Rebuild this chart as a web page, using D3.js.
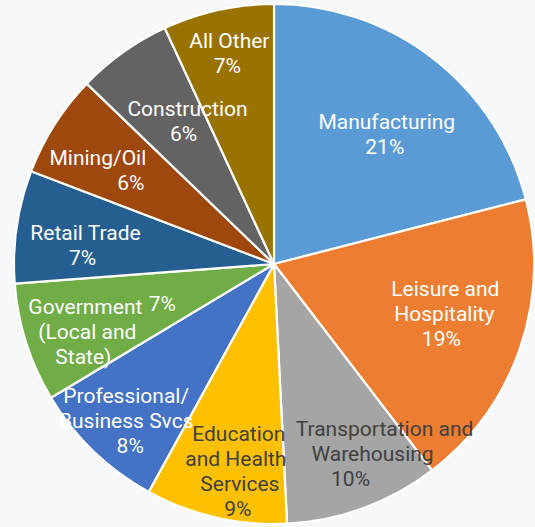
<!DOCTYPE html>
<html>
<head>
<meta charset="utf-8">
<script src="https://cdn.jsdelivr.net/npm/d3@7"></script>
<style>
  html, body { margin: 0; padding: 0; background: #f7f8f9; }
  svg { display: block; }
</style>
</head>
<body>
<div id="pie-chart"></div>
<script>
// industries, clockwise from 12 o'clock
const categories = [
  'Manufacturing', 'Leisure and Hospitality', 'Transportation and Warehousing',
  'Education and Health Services', 'Professional/ Business Svcs',
  'Government (Local and State)', 'Retail Trade', 'Mining/Oil', 'Construction', 'All Other'
];
// share of total, percent
const shares = [21.0, 18.6, 9.6, 8.8, 8.4, 7.4, 7.0, 6.4, 5.9, 6.9];
const pctLabels = ['21%', '19%', '10%', '9%', '8%', '7%', '7%', '6%', '6%', '7%'];
// how each category name is wrapped in its label
const labelLines = [
  ['Manufacturing'],
  ['Leisure and', 'Hospitality'],
  ['Transportation and', 'Warehousing'],
  ['Education', 'and Health', 'Services'],
  ['Professional/', 'Business Svcs'],
  ['Government', '(Local and', 'State)'],
  ['Retail Trade'],
  ['Mining/Oil'],
  ['Construction'],
  ['All Other']
];

const colors = ['#5B9BD5', '#ED7D31', '#A5A5A5', '#FFC000', '#4472C4',
                '#70AD47', '#255E91', '#9E480E', '#636363', '#997300'];
const textColors = ['#fff', '#fff', '#404040', '#404040', '#fff',
                    '#fff', '#fff', '#fff', '#fff', '#fff'];

// label nudges from the arc centroid, and per-line x shifts (Excel-dragged labels)
const labelNudge = [[14, -3], [18, -3], [40, 38], [0, 50], [-35, 40],
                    [-35, 19], [-30, 4], [-24, -8], [5, -12], [-11, -54]];
const lineDx = [[0, -2], [1, 0, -3], [15, 3, -19], [1, -2, 2, 0], [-1, -1, 3],
                [0, 2, -2], [1, -2], [-16, 17], [2, -2], [1, -1]];

const width = 535;
const height = 527;
const cx = 274, cy = 264;
const radius = 260;
const lineH = 25;

const svg = d3.select('#pie-chart')
  .append('svg')
  .attr('width', width)
  .attr('height', height);

svg.append('rect')
  .attr('width', width)
  .attr('height', height)
  .attr('fill', '#f7f8f9');

const g = svg.append('g')
  .attr('transform', `translate(${cx}, ${cy})`);

const pie = d3.pie().sort(null).value(d => d);
const arcs = pie(shares);

const arc = d3.arc().innerRadius(0).outerRadius(radius);
const labelArc = d3.arc().innerRadius(radius * 0.62).outerRadius(radius * 0.62);

g.selectAll('.slice')
  .data(arcs)
  .enter()
  .append('path')
  .attr('class', 'slice')
  .attr('d', arc)
  .attr('fill', (d, i) => colors[i])
  .attr('stroke', '#fff')
  .attr('stroke-width', 2.2)
  .attr('stroke-linejoin', 'round');

const labels = g.selectAll('.label')
  .data(arcs)
  .enter()
  .append('text')
  .attr('class', 'label')
  .attr('font-family', 'Roboto, sans-serif')
  .attr('font-size', 21)
  .attr('text-anchor', 'middle')
  .attr('fill', (d, i) => textColors[i]);

labels.each(function (d, i) {
  const [x0, y0] = labelArc.centroid(d);
  const x = x0 + labelNudge[i][0];
  const lines = labelLines[i].slice();
  // government's percent sits beside the first line
  const inline = i === 5;
  if (!inline) lines.push(pctLabels[i]);
  const top = y0 + labelNudge[i][1] - (lines.length - 1) * lineH / 2;
  const t = d3.select(this);
  lines.forEach((s, j) => {
    t.append('tspan')
      .attr('x', x + (lineDx[i][j] || 0))
      .attr('y', top + j * lineH)
      .attr('dy', '0.36em')
      .text(s);
  });
  if (inline) {
    t.append('tspan')
      .attr('x', x + 77)
      .attr('y', top - 3)
      .attr('dy', '0.36em')
      .text(pctLabels[i]);
  }
});
</script>
</body>
</html>
